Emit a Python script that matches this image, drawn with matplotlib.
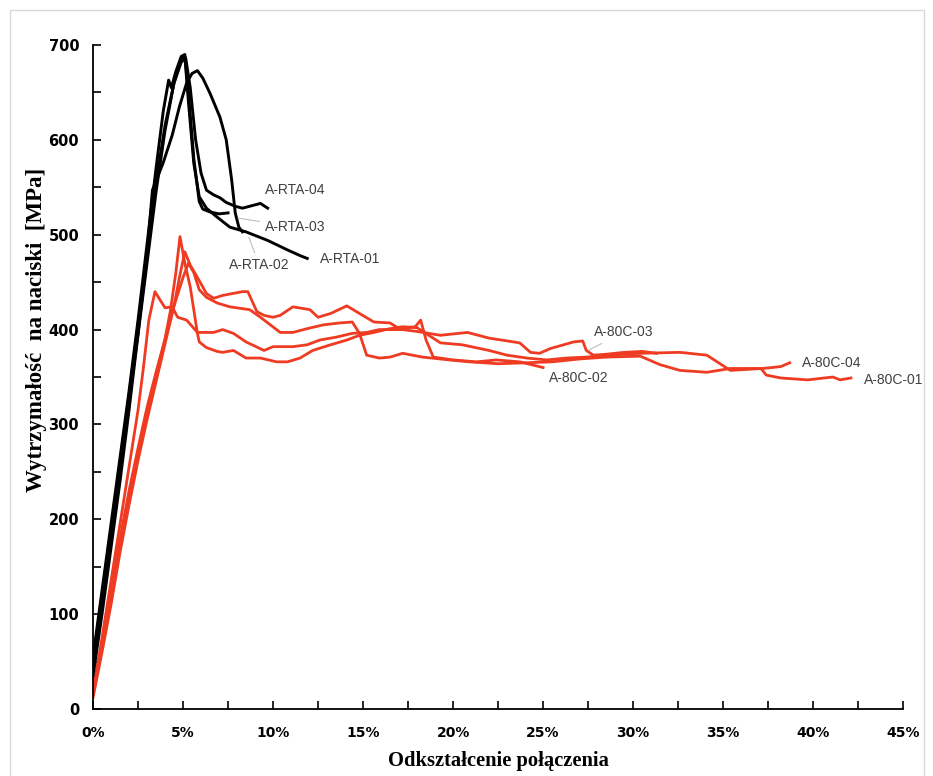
import matplotlib.pyplot as plt
from matplotlib.patches import Rectangle
from matplotlib.ticker import MultipleLocator, FuncFormatter

# A-RTA (black)
rta01_x = [0, 0.5, 1, 1.5, 2, 2.5, 3, 3.5, 4, 4.5, 4.9, 5.1, 5.3, 5.6, 5.9, 6.3, 6.8, 7.6, 8.5, 9.7, 10.8, 11.5, 11.9]
rta01_y = [45, 115, 185, 255, 325, 395, 470, 545, 610, 660, 685, 688, 640, 575, 540, 528, 520, 508, 503, 494, 484, 478, 475]

rta02_x = [0, 0.5, 1, 1.5, 2, 2.5, 3, 3.3, 3.9, 4.4, 4.8, 5.2, 5.5, 5.8, 6.1, 6.5, 7.05, 7.4, 7.7, 7.9, 8.1, 8.3]
rta02_y = [35, 100, 170, 240, 315, 395, 480, 547, 576, 605, 635, 660, 670, 673, 665, 649, 624, 600, 558, 523, 508, 503]

rta03_x = [0, 0.5, 1, 1.5, 2, 2.5, 3, 3.5, 3.9, 4.2, 4.35, 4.6, 4.9, 5.1, 5.3, 5.6, 5.9, 6.1, 6.5, 7.0, 7.5]
rta03_y = [55, 125, 195, 265, 335, 410, 490, 570, 630, 663, 655, 672, 688, 690, 650, 580, 535, 527, 524, 522, 523]

rta04_x = [0, 0.5, 1, 1.5, 2, 2.5, 3, 3.5, 4, 4.5, 4.9, 5.15, 5.4, 5.7, 6.0, 6.3, 6.7, 7.05, 7.4, 7.9, 8.3, 8.9, 9.3, 9.7]
rta04_y = [50, 120, 190, 260, 330, 405, 480, 555, 615, 660, 682, 686, 655, 600, 565, 547, 542, 539, 534, 530, 528, 531, 533, 528]

# A-80C (red)
c01_x = [0, 0.5, 1, 1.5, 2, 2.5, 3, 3.5, 4, 4.5, 5.0, 5.3, 5.6, 5.9, 6.3, 6.9, 7.6, 8.7, 9.3, 10.4, 11.1, 11.9,
         12.8, 13.7, 14.4, 14.8, 15.2, 15.9, 16.5, 17.2, 18.3, 19.8, 20.9, 22.5, 24, 25.5, 27, 28.5, 30.4, 31.5,
         32.6, 34.1, 35.4, 37.1, 37.4, 38.2, 39.7, 41.1, 41.5, 42.1]
c01_y = [15, 65, 115, 170, 220, 268, 312, 350, 390, 425, 455, 470, 460, 442, 434, 428, 424, 421, 413, 397, 397, 401,
         405, 407, 408, 396, 373, 370, 371, 375, 371, 368, 366, 364, 365, 366, 369, 371, 372, 363,
         357, 355, 359, 359, 352, 349, 347, 350, 347, 349]

c02_x = [0, 0.5, 1, 1.5, 2, 2.5, 3, 3.5, 4, 4.5, 4.8, 5.1, 5.4, 5.8, 6.3, 6.7, 7.2, 8.3, 8.6, 9.1, 9.5, 10, 10.4,
         11.1, 12.05, 12.5, 13.2, 14.1, 14.8, 15.6, 16.5, 17, 17.9, 18.2, 18.5, 18.9, 20, 21.3, 22.4, 23.7, 25]
c02_y = [12, 60, 110, 165, 215, 262, 305, 345, 385, 425, 455, 482, 468, 455, 438, 433, 436, 440, 440, 419, 415, 413, 415,
         424, 421, 413, 417, 425, 417, 408, 407, 401, 403, 410, 389, 371, 368, 366, 368, 366, 360]

c03_x = [0, 0.5, 1, 1.5, 2, 2.5, 2.8, 3.1, 3.44, 3.7, 4.0, 4.4, 4.7, 5.2, 5.8, 6.7, 7.2, 7.8, 8.5, 9.5, 10, 11.1,
         11.9, 12.6, 13.5, 14.4, 15.2, 15.9, 17.2, 18, 19.3, 20.8, 22, 23.7, 24.3, 24.8, 25.4, 26.7, 27.2, 27.4,
         27.8, 28.5, 29.5, 30.5, 31.3]
c03_y = [18, 75, 135, 195, 255, 315, 360, 410, 440, 432, 423, 424, 413, 410, 397, 397, 400, 396, 387, 378, 382, 382,
         384, 389, 392, 396, 397, 400, 400, 398, 394, 397, 391, 386, 376, 375, 380, 387, 388, 378,
         373, 374, 376, 377, 375]

c04_x = [0, 0.5, 1, 1.5, 2, 2.5, 3, 3.5, 4, 4.3, 4.6, 4.83, 5.1, 5.4, 5.8, 5.9, 6.3, 6.9, 7.2, 7.8, 8.5, 9.3, 10.2,
         10.8, 11.5, 12.2, 13.2, 14.1, 14.8, 15.6, 16.5, 17.2, 18, 19.3, 20.5, 22, 23, 24.1, 25.2, 26.3, 27.4,
         28.5, 30.4, 32.6, 34.1, 35.4, 37.2, 38.2, 38.7]
c04_y = [20, 70, 125, 180, 230, 275, 318, 355, 390, 420, 460, 498, 470, 445, 396, 387, 381, 377, 376, 378, 370, 370, 366,
         366, 370, 378, 384, 389, 394, 397, 401, 403, 402, 386, 384, 378, 373, 370, 368, 370, 371,
         373, 375, 376, 373, 357, 359, 361, 365]

RED = '#ee3b22'

fig = plt.figure(figsize=(9.33, 7.76), dpi=100)
ax = fig.add_axes([0.0997, 0.0863, 0.8683, 0.8557])

for xs, ys in [(c01_x, c01_y), (c02_x, c02_y), (c03_x, c03_y), (c04_x, c04_y)]:
    ax.plot(xs, ys, color=RED, lw=2.0)
for xs, ys in [(rta01_x, rta01_y), (rta02_x, rta02_y), (rta03_x, rta03_y), (rta04_x, rta04_y)]:
    ax.plot(xs, ys, color='black', lw=2.1)

ax.set_xlim(0, 45)
ax.set_ylim(0, 700)
ax.spines['top'].set_visible(False)
ax.spines['right'].set_visible(False)
ax.spines['left'].set_linewidth(1.3)
ax.spines['bottom'].set_linewidth(1.3)

ax.xaxis.set_major_locator(MultipleLocator(5))
ax.xaxis.set_minor_locator(MultipleLocator(2.5))
ax.yaxis.set_major_locator(MultipleLocator(100))
ax.yaxis.set_minor_locator(MultipleLocator(50))
ax.xaxis.set_major_formatter(FuncFormatter(lambda v, p: '%d%%' % v))
ax.tick_params(which='both', direction='in', width=1.2, length=6)
ax.tick_params(axis='x', pad=12)
ax.tick_params(axis='y', pad=10)
for lab in ax.get_xticklabels():
    lab.set_family('DejaVu Sans')
    lab.set_fontweight('bold')
    lab.set_fontsize(10)
for lab in ax.get_yticklabels():
    lab.set_family('DejaVu Sans')
    lab.set_fontweight('bold')
    lab.set_fontsize(10.5)

ax.set_xlabel('Odkształcenie połączenia', family='Liberation Serif', fontweight='bold', fontsize=14.8, labelpad=8)
ax.set_ylabel('Wytrzymałość  na naciski  [MPa]', family='Liberation Serif', fontweight='bold', fontsize=16.5)
ax.yaxis.set_label_coords(-0.057, 0.571)

lab_kw = dict(fontsize=10, color='#404040', family='Liberation Sans', va='center', ha='left')
lead = dict(arrowstyle='-', color='#bfbfbf', lw=0.8)
ax.text(9.56, 547, 'A-RTA-04', **lab_kw)
ax.annotate('A-RTA-03', xy=(7.9, 518), xytext=(9.56, 508), arrowprops=lead, **lab_kw)
ax.annotate('A-RTA-02', xy=(8.6, 500), xytext=(7.56, 468), arrowprops=lead, **lab_kw)
ax.text(12.6, 474, 'A-RTA-01', **lab_kw)
ax.annotate('A-80C-03', xy=(27.4, 377), xytext=(27.8, 397), arrowprops=lead, **lab_kw)
ax.text(25.3, 349, 'A-80C-02', **lab_kw)
ax.text(39.4, 365, 'A-80C-04', **lab_kw)
ax.text(42.8, 347, 'A-80C-01', **lab_kw)

fig.patches.append(Rectangle((10 / 933, -0.01), 914 / 933, 1.01 - 10 / 776, transform=fig.transFigure,
                             fill=False, edgecolor='#d9d9d9', lw=1.0))

fig.savefig('out.png', dpi=100)
